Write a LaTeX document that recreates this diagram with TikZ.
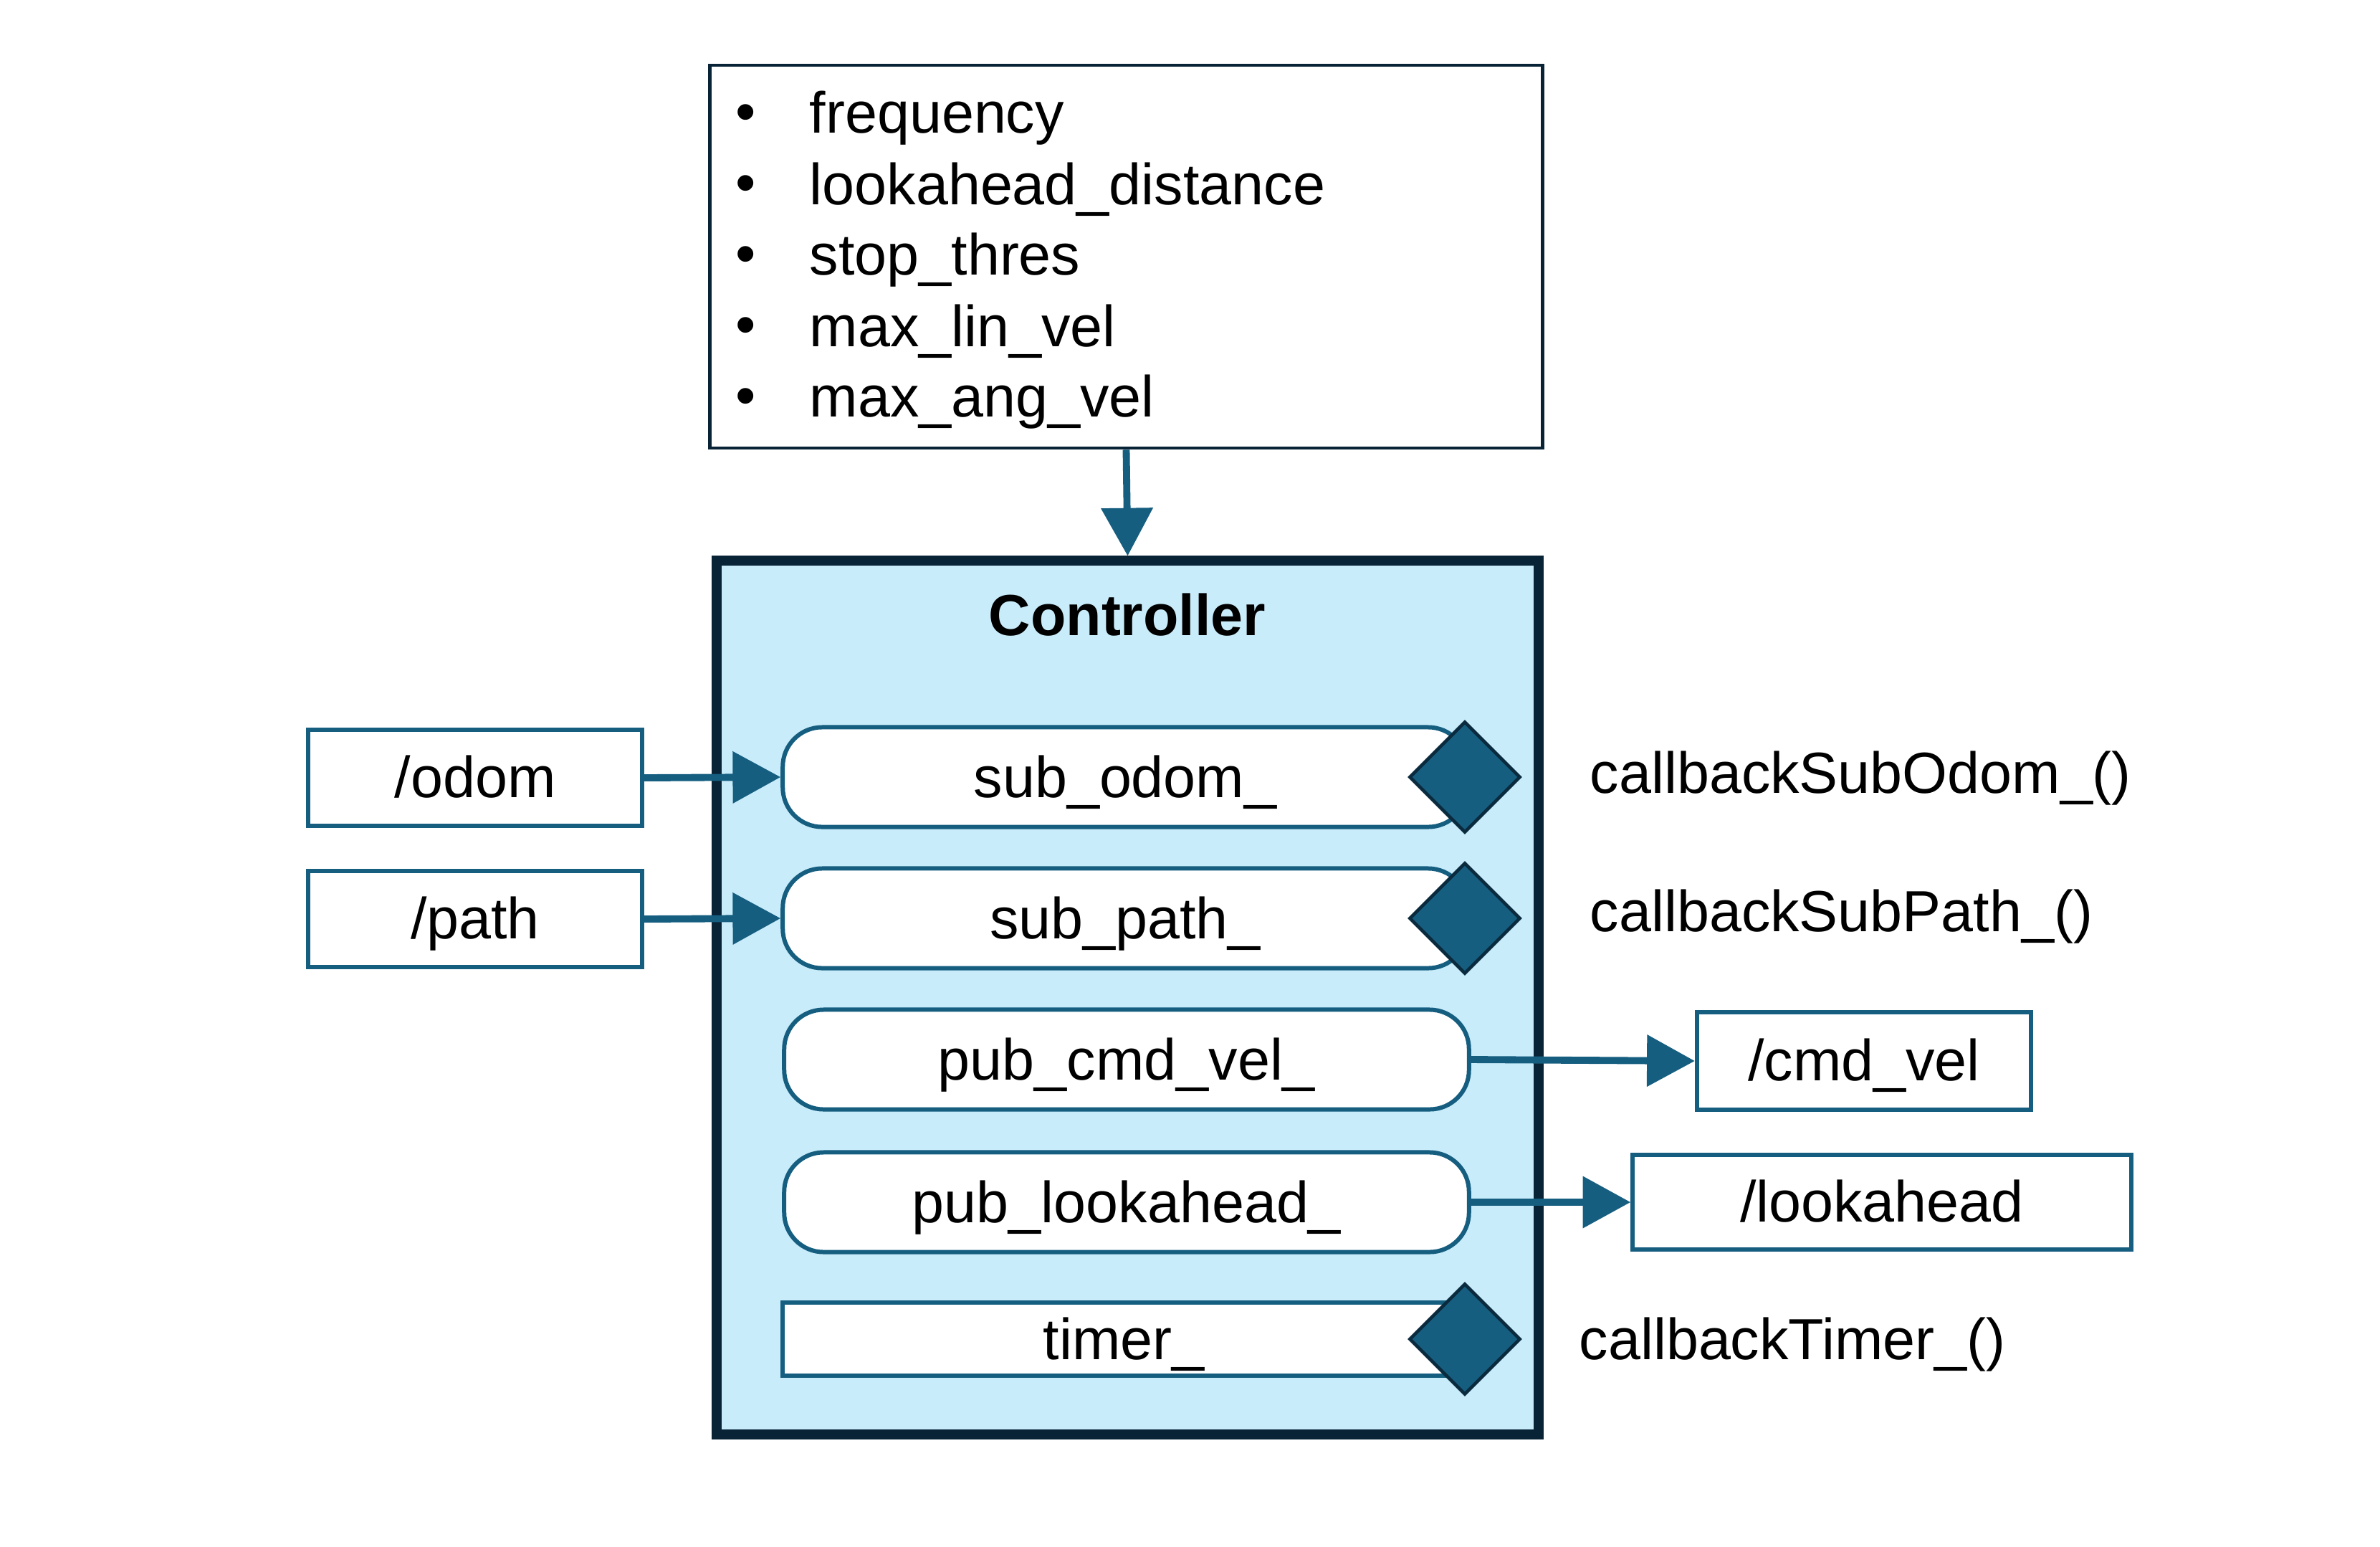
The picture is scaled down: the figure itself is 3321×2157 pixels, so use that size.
\documentclass[tikz,border=0pt]{standalone}
\usepackage{fontspec}
\setmainfont{Liberation Sans}
\usetikzlibrary{arrows.meta,shapes.geometric}
\definecolor{teal}{HTML}{165E80}
\definecolor{navy}{HTML}{082236}
\definecolor{lightblue}{HTML}{C9ECFA}
\definecolor{diaedge}{HTML}{0A2A3E}
\tikzset{
  base/.style={font=\fontsize{23pt}{27pt}\selectfont, text=black},
  topic/.style={base, draw=teal, line width=1.7pt, fill=white, inner sep=0pt, text height=0.59cm, text depth=0.05cm},
  cbox/.style={base, draw=teal, line width=1.7pt, fill=white, rounded corners=0.55cm, inner sep=0pt, minimum width=9.55cm, minimum height=1.39cm, text height=0.59cm, text depth=0.02cm},
  tbox/.style={base, draw=teal, line width=1.7pt, fill=white, inner sep=0pt, minimum width=9.51cm, minimum height=1.02cm, text height=0.59cm, text depth=0.02cm},
  dia/.style={diamond, draw=diaedge, fill=teal, line width=1.3pt, inner sep=0pt, minimum width=1.55cm, minimum height=1.55cm},
  arr/.style={draw=teal, line width=2.8pt, -{Triangle[length=19pt,width=20pt]}},
  lbl/.style={base, anchor=west, inner sep=0pt},
  ptext/.style={base, anchor=west, inner sep=0pt},
}
\begin{document}
\begin{tikzpicture}[x=0.01cm,y=-0.01cm]
\useasboundingbox[fill=white] (0,0) rectangle (3321,2157);
% parameter box
\node[draw=navy, line width=1.3pt, fill=white, minimum width=11.61cm, minimum height=5.34cm, inner sep=0pt] (params) at (1571.5,358) {};
\node[ptext] (b1) at (1026,165) {•};
\node[ptext] (p1) at (1129,165) {frequency};
\node[ptext] (b2) at (1026,264) {•};
\node[ptext] (p2) at (1129,264) {lookahead\_distance};
\node[ptext] (b3) at (1026,363) {•};
\node[ptext] (p3) at (1129,363) {stop\_thres};
\node[ptext] (b4) at (1026,462) {•};
\node[ptext] (p4) at (1129,462) {max\_lin\_vel};
\node[ptext] (b5) at (1026,561) {•};
\node[ptext] (p5) at (1129,561) {max\_ang\_vel};
% controller
\node[draw=navy, line width=3.8pt, fill=lightblue, minimum width=11.46cm, minimum height=12.18cm, inner sep=0pt] (ctrl) at (1573.5,1391.5) {};
\node[base, font=\fontsize{23pt}{27pt}\selectfont\bfseries] (title) at (1573,858) {Controller};
\draw[arr] (params.south) -- (ctrl.north);
% members
\node[cbox] (subodom) at (1570,1084) {sub\_odom\_};
\node[cbox] (subpath) at (1570,1281) {sub\_path\_};
\node[cbox] (pubcmd) at (1572,1478) {pub\_cmd\_vel\_};
\node[cbox] (publook) at (1572,1677) {pub\_lookahead\_};
\node[tbox] (timer) at (1568,1868) {timer\_};
\node[dia] (d1) at (2044,1084) {};
\node[dia] (d2) at (2044,1281) {};
\node[dia] (d3) at (2044,1868) {};
% topics
\node[topic, minimum width=4.66cm, minimum height=1.33cm] (odom) at (663,1085) {/odom};
\node[topic, minimum width=4.66cm, minimum height=1.33cm] (path) at (663,1282) {/path};
\node[topic, minimum width=4.66cm, minimum height=1.35cm] (cmdvel) at (2601,1480) {/cmd\_vel};
\node[topic, minimum width=6.95cm, minimum height=1.31cm] (look) at (2626,1677) {/lookahead};
\draw[arr] (odom.east) -- (subodom.west);
\draw[arr] (path.east) -- (subpath.west);
\draw[arr] (pubcmd.east) -- (cmdvel.west);
\draw[arr] (publook.east) -- (look.west);
% callbacks
\node[lbl] (cb1) at (2218,1086) {callbackSubOdom\_()};
\node[lbl] (cb2) at (2218,1279) {callbackSubPath\_()};
\node[lbl] (cb3) at (2203,1876) {callbackTimer\_()};
\end{tikzpicture}
\end{document}
